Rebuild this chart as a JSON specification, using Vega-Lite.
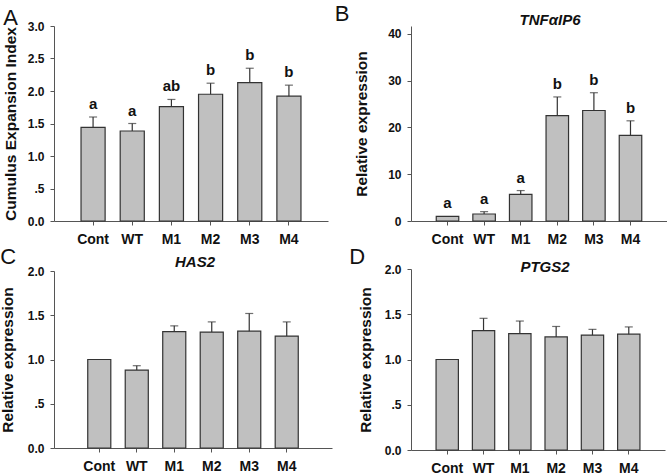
{
  "$schema": "https://vega.github.io/schema/vega-lite/v6.json",
  "padding": {"left": 0, "top": 3, "right": 0, "bottom": 0},
  "background": "white",
  "config": {
    "font": "Liberation Sans",
    "view": {"stroke": null},
    "axis": {"labelFont": "Liberation Sans", "titleFont": "Liberation Sans", "labelFontWeight": "bold", "titleFontWeight": "bold", "labelColor": "#111", "titleColor": "#111", "domainColor": "#555", "tickColor": "#555", "grid": false, "tickSize": 4, "labelOverlap": false},
    "axisX": {"labelAngle": 0, "labelFontSize": 14, "labelPadding": 7, "title": null},
    "axisY": {"labelFontSize": 12, "titleFontSize": 15.5, "labelPadding": 6},
    "title": {"font": "Liberation Sans", "color": "#111"}
  },
  "datasets": {
    "d": [
      {"panel": "A", "group": "Cont", "value": 1.44, "err": 1.60, "letter": "a"},
      {"panel": "A", "group": "WT", "value": 1.385, "err": 1.50, "letter": "a"},
      {"panel": "A", "group": "M1", "value": 1.76, "err": 1.87, "letter": "ab"},
      {"panel": "A", "group": "M2", "value": 1.95, "err": 2.12, "letter": "b"},
      {"panel": "A", "group": "M3", "value": 2.13, "err": 2.35, "letter": "b"},
      {"panel": "A", "group": "M4", "value": 1.92, "err": 2.09, "letter": "b"},
      {"panel": "B", "group": "Cont", "value": 1.0, "err": 1.0, "letter": "a"},
      {"panel": "B", "group": "WT", "value": 1.5, "err": 2.0, "letter": "a"},
      {"panel": "B", "group": "M1", "value": 5.7, "err": 6.5, "letter": "a"},
      {"panel": "B", "group": "M2", "value": 22.5, "err": 26.5, "letter": "b"},
      {"panel": "B", "group": "M3", "value": 23.6, "err": 27.4, "letter": "b"},
      {"panel": "B", "group": "M4", "value": 18.3, "err": 21.4, "letter": "b"},
      {"panel": "C", "group": "Cont", "value": 1.0, "err": null, "letter": ""},
      {"panel": "C", "group": "WT", "value": 0.88, "err": 0.93, "letter": ""},
      {"panel": "C", "group": "M1", "value": 1.315, "err": 1.38, "letter": ""},
      {"panel": "C", "group": "M2", "value": 1.31, "err": 1.425, "letter": ""},
      {"panel": "C", "group": "M3", "value": 1.32, "err": 1.52, "letter": ""},
      {"panel": "C", "group": "M4", "value": 1.265, "err": 1.425, "letter": ""},
      {"panel": "D", "group": "Cont", "value": 1.0, "err": null, "letter": ""},
      {"panel": "D", "group": "WT", "value": 1.32, "err": 1.455, "letter": ""},
      {"panel": "D", "group": "M1", "value": 1.285, "err": 1.425, "letter": ""},
      {"panel": "D", "group": "M2", "value": 1.25, "err": 1.365, "letter": ""},
      {"panel": "D", "group": "M3", "value": 1.27, "err": 1.333, "letter": ""},
      {"panel": "D", "group": "M4", "value": 1.28, "err": 1.36, "letter": ""}
    ]
  },
  "spacing": 2,
  "hconcat": [
    {
      "spacing": 0,
      "vconcat": [
        {
          "title": {"text": "A", "anchor": "start", "fontSize": 22, "fontWeight": "normal", "offset": -10},
          "vconcat": [
            {
              "width": 274, "height": 195,
              "data": {"name": "d"},
              "transform": [{"filter": "datum.panel == 'A'"}],
              "encoding": {"x": {"field": "group", "type": "nominal", "sort": ["Cont", "WT", "M1", "M2", "M3", "M4"], "scale": {"paddingInner": 0.385, "paddingOuter": 0.69}}},
              "layer": [
                {"mark": {"type": "bar", "fill": "#c0c0c0", "stroke": "#333", "strokeWidth": 1.2},
                 "encoding": {"y": {"field": "value", "type": "quantitative", "scale": {"domain": [0, 3], "nice": false}, "axis": {"title": "Cumulus Expansion Index", "values": [0, 0.5, 1, 1.5, 2, 2.5, 3], "labelExpr": "datum.value == 0.5 ? '.5' : format(datum.value, '.1f')", "titlePadding": 9}}}},
                {"transform": [{"filter": "datum.err != null"}], "mark": {"type": "rule", "color": "#333", "strokeWidth": 1.2},
                 "encoding": {"y": {"field": "value", "type": "quantitative", "axis": {"title": "Cumulus Expansion Index", "values": [0, 0.5, 1, 1.5, 2, 2.5, 3], "labelExpr": "datum.value == 0.5 ? '.5' : format(datum.value, '.1f')", "titlePadding": 9}}, "y2": {"field": "err"}}},
                {"transform": [{"filter": "datum.err != null"}], "mark": {"type": "tick", "color": "#333", "size": 8, "thickness": 1.2},
                 "encoding": {"y": {"field": "err", "type": "quantitative", "axis": {"title": "Cumulus Expansion Index", "values": [0, 0.5, 1, 1.5, 2, 2.5, 3], "labelExpr": "datum.value == 0.5 ? '.5' : format(datum.value, '.1f')", "titlePadding": 9}}}},
                {"mark": {"type": "text", "baseline": "alphabetic", "dy": -8, "fontSize": 15, "fontWeight": "bold", "color": "#111"},
                 "encoding": {"y": {"field": "err", "type": "quantitative", "axis": {"title": "Cumulus Expansion Index", "values": [0, 0.5, 1, 1.5, 2, 2.5, 3], "labelExpr": "datum.value == 0.5 ? '.5' : format(datum.value, '.1f')", "titlePadding": 9}}, "text": {"field": "letter"}}}
              ]
            }
          ]
        },
        {
          "title": {"text": "C", "anchor": "start", "fontSize": 22, "fontWeight": "normal", "offset": -14},
          "vconcat": [
            {
              "title": {"text": "HAS2", "fontSize": 15, "fontWeight": "bold", "fontStyle": "italic", "anchor": "middle", "offset": -5, "dx": 2},
              "width": 278, "height": 177,
              "data": {"name": "d"},
              "transform": [{"filter": "datum.panel == 'C'"}],
              "encoding": {"x": {"field": "group", "type": "nominal", "sort": ["Cont", "WT", "M1", "M2", "M3", "M4"], "scale": {"paddingInner": 0.385, "paddingOuter": 0.9}}},
              "layer": [
                {"mark": {"type": "bar", "fill": "#c0c0c0", "stroke": "#333", "strokeWidth": 1.2},
                 "encoding": {"y": {"field": "value", "type": "quantitative", "scale": {"domain": [0, 2], "nice": false}, "axis": {"title": "Relative expression", "values": [0, 0.5, 1, 1.5, 2], "labelExpr": "datum.value == 0.5 ? '.5' : format(datum.value, '.1f')", "titlePadding": 12}}}},
                {"transform": [{"filter": "datum.err != null"}], "mark": {"type": "rule", "color": "#333", "strokeWidth": 1.2},
                 "encoding": {"y": {"field": "value", "type": "quantitative", "axis": {"title": "Relative expression", "values": [0, 0.5, 1, 1.5, 2], "labelExpr": "datum.value == 0.5 ? '.5' : format(datum.value, '.1f')", "titlePadding": 12}}, "y2": {"field": "err"}}},
                {"transform": [{"filter": "datum.err != null"}], "mark": {"type": "tick", "color": "#333", "size": 8, "thickness": 1.2},
                 "encoding": {"y": {"field": "err", "type": "quantitative", "axis": {"title": "Relative expression", "values": [0, 0.5, 1, 1.5, 2], "labelExpr": "datum.value == 0.5 ? '.5' : format(datum.value, '.1f')", "titlePadding": 12}}}}
              ]
            }
          ]
        }
      ]
    },
    {
      "spacing": 0,
      "vconcat": [
        {
          "title": {"text": "B", "anchor": "start", "fontSize": 22, "fontWeight": "normal", "offset": -13, "dx": -20},
          "vconcat": [
            {
              "title": {"text": "TNFαIP6", "fontSize": 15, "fontWeight": "bold", "fontStyle": "italic", "anchor": "middle", "offset": -2, "dx": 11},
              "width": 256, "height": 195,
              "data": {"name": "d"},
              "transform": [{"filter": "datum.panel == 'B'"}],
              "encoding": {"x": {"field": "group", "type": "nominal", "sort": ["Cont", "WT", "M1", "M2", "M3", "M4"], "scale": {"paddingInner": 0.385, "paddingOuter": 0.69}}},
              "layer": [
                {"mark": {"type": "bar", "fill": "#c0c0c0", "stroke": "#333", "strokeWidth": 1.2},
                 "encoding": {"y": {"field": "value", "type": "quantitative", "scale": {"domain": [0, 41.65], "nice": false}, "axis": {"title": "Relative expression", "values": [0, 10, 20, 30, 40], "titlePadding": 18}}}},
                {"transform": [{"filter": "datum.err > datum.value"}], "mark": {"type": "rule", "color": "#333", "strokeWidth": 1.2},
                 "encoding": {"y": {"field": "value", "type": "quantitative", "axis": {"title": "Relative expression", "values": [0, 10, 20, 30, 40], "titlePadding": 18}}, "y2": {"field": "err"}}},
                {"transform": [{"filter": "datum.err > datum.value"}], "mark": {"type": "tick", "color": "#333", "size": 8, "thickness": 1.2},
                 "encoding": {"y": {"field": "err", "type": "quantitative", "axis": {"title": "Relative expression", "values": [0, 10, 20, 30, 40], "titlePadding": 18}}}},
                {"mark": {"type": "text", "baseline": "alphabetic", "dy": -8, "fontSize": 15, "fontWeight": "bold", "color": "#111"},
                 "encoding": {"y": {"field": "err", "type": "quantitative", "axis": {"title": "Relative expression", "values": [0, 10, 20, 30, 40], "titlePadding": 18}}, "text": {"field": "letter"}}}
              ]
            }
          ]
        },
        {
          "title": {"text": "D", "anchor": "start", "fontSize": 22, "fontWeight": "normal", "offset": -9, "dx": -9},
          "vconcat": [
            {
              "title": {"text": "PTGS2", "fontSize": 15, "fontWeight": "bold", "fontStyle": "italic", "anchor": "middle", "offset": -12, "dx": 7},
              "width": 254, "height": 181,
              "data": {"name": "d"},
              "transform": [{"filter": "datum.panel == 'D'"}],
              "encoding": {"x": {"field": "group", "type": "nominal", "sort": ["Cont", "WT", "M1", "M2", "M3", "M4"], "scale": {"paddingInner": 0.385, "paddingOuter": 0.69}}},
              "layer": [
                {"mark": {"type": "bar", "fill": "#c0c0c0", "stroke": "#333", "strokeWidth": 1.2},
                 "encoding": {"y": {"field": "value", "type": "quantitative", "scale": {"domain": [0, 2], "nice": false}, "axis": {"title": "Relative expression", "values": [0, 0.5, 1, 1.5, 2], "labelExpr": "datum.value == 0.5 ? '.5' : format(datum.value, '.1f')", "titlePadding": 11}}}},
                {"transform": [{"filter": "datum.err != null"}], "mark": {"type": "rule", "color": "#333", "strokeWidth": 1.2},
                 "encoding": {"y": {"field": "value", "type": "quantitative", "axis": {"title": "Relative expression", "values": [0, 0.5, 1, 1.5, 2], "labelExpr": "datum.value == 0.5 ? '.5' : format(datum.value, '.1f')", "titlePadding": 11}}, "y2": {"field": "err"}}},
                {"transform": [{"filter": "datum.err != null"}], "mark": {"type": "tick", "color": "#333", "size": 8, "thickness": 1.2},
                 "encoding": {"y": {"field": "err", "type": "quantitative", "axis": {"title": "Relative expression", "values": [0, 0.5, 1, 1.5, 2], "labelExpr": "datum.value == 0.5 ? '.5' : format(datum.value, '.1f')", "titlePadding": 11}}}}
              ]
            }
          ]
        }
      ]
    }
  ]
}
